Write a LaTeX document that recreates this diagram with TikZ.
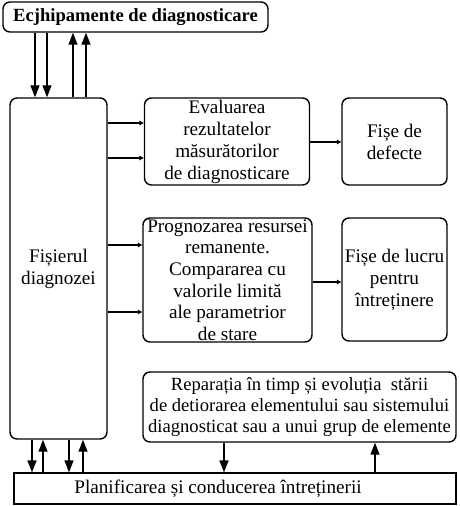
\documentclass[tikz,border=0pt]{standalone}
\usepackage{fontspec}
\setmainfont{Liberation Serif}
\usetikzlibrary{arrows.meta}
\begin{document}
\begin{tikzpicture}[x=1pt,y=-1pt,
  box/.style={draw,line width=1.4pt,rounded corners=7pt,inner sep=0pt,align=center,font=\fontsize{19.2}{22}\selectfont},
  sqbox/.style={draw,line width=1.2pt,inner sep=0pt,align=center},
  big/.style={line width=1.3pt,-{Triangle[length=12pt,width=9pt]}},
  small/.style={line width=1.2pt,-{Triangle[length=4.5pt,width=4.5pt]}}]
\useasboundingbox (0,0) rectangle (459,506);
\node[box,font=\fontsize{18.6}{21}\selectfont,minimum width=265pt,minimum height=30pt] (top) at (135.5,17) {\textbf{Ecjhipamente de diagnosticare}};
\node[box,minimum width=97pt,minimum height=341pt] (fis) at (58.5,268.5) {Fișierul\\diagnozei};
\node[box,minimum width=165pt,minimum height=87pt] (eval) at (227,141.5) {Evaluarea\\rezultatelor\\măsurătorilor\\de diagnosticare};
\node[box,minimum width=105pt,minimum height=87pt] (def) at (394.5,141.5) {Fișe de\\defecte};
\node[box,font=\fontsize{19.2}{21.7}\selectfont,minimum width=169pt,minimum height=124pt] (prog) at (227.5,280) {Prognozarea resursei\\remanente.\\Compararea cu\\valorile limită\\ale parametrior\\de stare};
\node[box,minimum width=105pt,minimum height=123pt] (lucru) at (394.5,279.5) {Fișe de lucru\\pentru\\întreținere};
\node[box,font=\fontsize{18.6}{21}\selectfont,minimum width=313pt,minimum height=70pt] (rep) at (299.5,407) {Reparația în timp și evoluția~ stării\\de detiorarea elementului sau sistemului\\diagnosticat sau a unui grup de elemente};
\node[sqbox,minimum width=442pt,minimum height=31pt] (plan) at (235,488.5) {};
\node[font=\fontsize{19.2}{22}\selectfont,inner sep=0pt] (plantext) at (218,488.5) {Planificarea și conducerea întreținerii};
% top arrows
\draw[big] (top.south -| 35,0) -- (fis.north -| 35,0);
\draw[big] (top.south -| 47,0) -- (fis.north -| 47,0);
\draw[big] (fis.north -| 73,0) -- (top.south -| 73,0);
\draw[big] (fis.north -| 86,0) -- (top.south -| 86,0);
% bottom arrows
\draw[big] (fis.south -| 32,0) -- (plan.north -| 32,0);
\draw[big] (plan.north -| 43,0) -- (fis.south -| 43,0);
\draw[big] (fis.south -| 69,0) -- (plan.north -| 69,0);
\draw[big] (plan.north -| 83,0) -- (fis.south -| 83,0);
\draw[big] (rep.south -| 224,0) -- (plan.north -| 224,0);
\draw[big] (plan.north -| 375,0) -- (rep.south -| 375,0);
% horizontal arrows
\draw[small] (fis.east |- 0,123) -- (eval.west |- 0,123);
\draw[small] (fis.east |- 0,158) -- (eval.west |- 0,158);
\draw[small] (fis.east |- 0,245) -- (prog.west |- 0,245);
\draw[small] (fis.east |- 0,312) -- (prog.west |- 0,312);
\draw[small] (eval.east |- 0,142) -- (def.west |- 0,142);
\draw[small] (prog.east |- 0,282) -- (lucru.west |- 0,282);
\end{tikzpicture}
\end{document}
